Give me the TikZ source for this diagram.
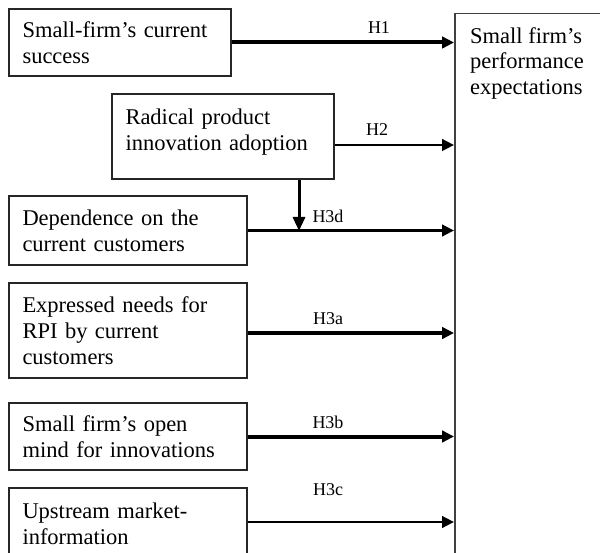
\documentclass[tikz,border=0pt]{standalone}
\usepackage{fontspec}
\setmainfont{Liberation Serif}
\usetikzlibrary{arrows.meta}
\begin{document}
\begin{tikzpicture}[x=1pt,y=-1pt,
  boxnode/.style={draw=black!85, line width=1.5pt, rectangle, align=left, inner xsep=13.5pt, inner ysep=0pt,
    font=\fontsize{22.5}{26}\selectfont},
  hlabel/.style={font=\fontsize{18}{20}\selectfont, inner sep=0pt},
  arr/.style={-{Triangle[length=12pt,width=11.5pt]}, draw=black},
  thin arr/.style={arr, line width=2.7pt},
  thick arr/.style={arr, line width=4pt},
]
\useasboundingbox (0,0) rectangle (600,553);
\clip (0,0) rectangle (600,553);

% boxes
\node[boxnode, text width=195pt, minimum height=67pt] (b1) at (120,42.5)
  {Small-firm’s current\\success};
\node[boxnode, text width=195pt, minimum height=85pt] (b2) at (223,136.5)
  {Radical product\\innovation adoption\\[-12pt]\mbox{}};
\node[boxnode, text width=211pt, minimum height=69pt] (b3) at (128,230.5)
  {Dependence on the\\current customers};
\node[boxnode, text width=211pt, minimum height=95pt] (b4) at (128,330.5)
  {Expressed needs for\\RPI by current\\customers};
\node[boxnode, text width=211pt, minimum height=67pt] (b5) at (128,436.5)
  {Small firm’s open\\mind for innovations};
\node[boxnode, text width=211pt, minimum height=72pt] (b6) at (128,524)
  {Upstream market-\\information};

\node[draw=black!75, line width=1.5pt, rectangle, minimum width=180pt, minimum height=580pt,
  anchor=north west, inner sep=0pt] (perf) at (454,13) {};
\node[anchor=north west, align=left, inner sep=0pt, font=\fontsize{22.5}{25.5}\selectfont]
  (perftext) at (470,27) {Small firm’s\\performance\\expectations};

% connectors
\draw[thick arr] (b1.east) -- (b1.east -| perf.west);
\draw[thin arr] ([yshift=-8.5pt]b2.east) -- ([yshift=-8.5pt]b2.east -| perf.west);
\draw[thin arr] (b3.east) -- (b3.east -| perf.west);
\draw[arr, line width=3.6pt] ([yshift=-2.5pt]b4.east) -- ([yshift=-2.5pt]b4.east -| perf.west);
\draw[thick arr] (b5.east) -- (b5.east -| perf.west);
\draw[thin arr] ([yshift=2pt]b6.east) -- ([yshift=2pt]b6.east -| perf.west);

\coordinate (v) at (299,231);
\draw[-{Triangle[length=14pt,width=12pt]}, line width=3pt] (v |- b2.south) -- (v);

% labels
\node[hlabel] (l1) at (379,28) {H1};
\node[hlabel] (l2) at (377,130) {H2};
\node[hlabel] (l3d) at (328,216) {H3d};
\node[hlabel] (l3a) at (328,319) {H3a};
\node[hlabel] (l3b) at (328,422) {H3b};
\node[hlabel] (l3c) at (328,490) {H3c};
\end{tikzpicture}
\end{document}
